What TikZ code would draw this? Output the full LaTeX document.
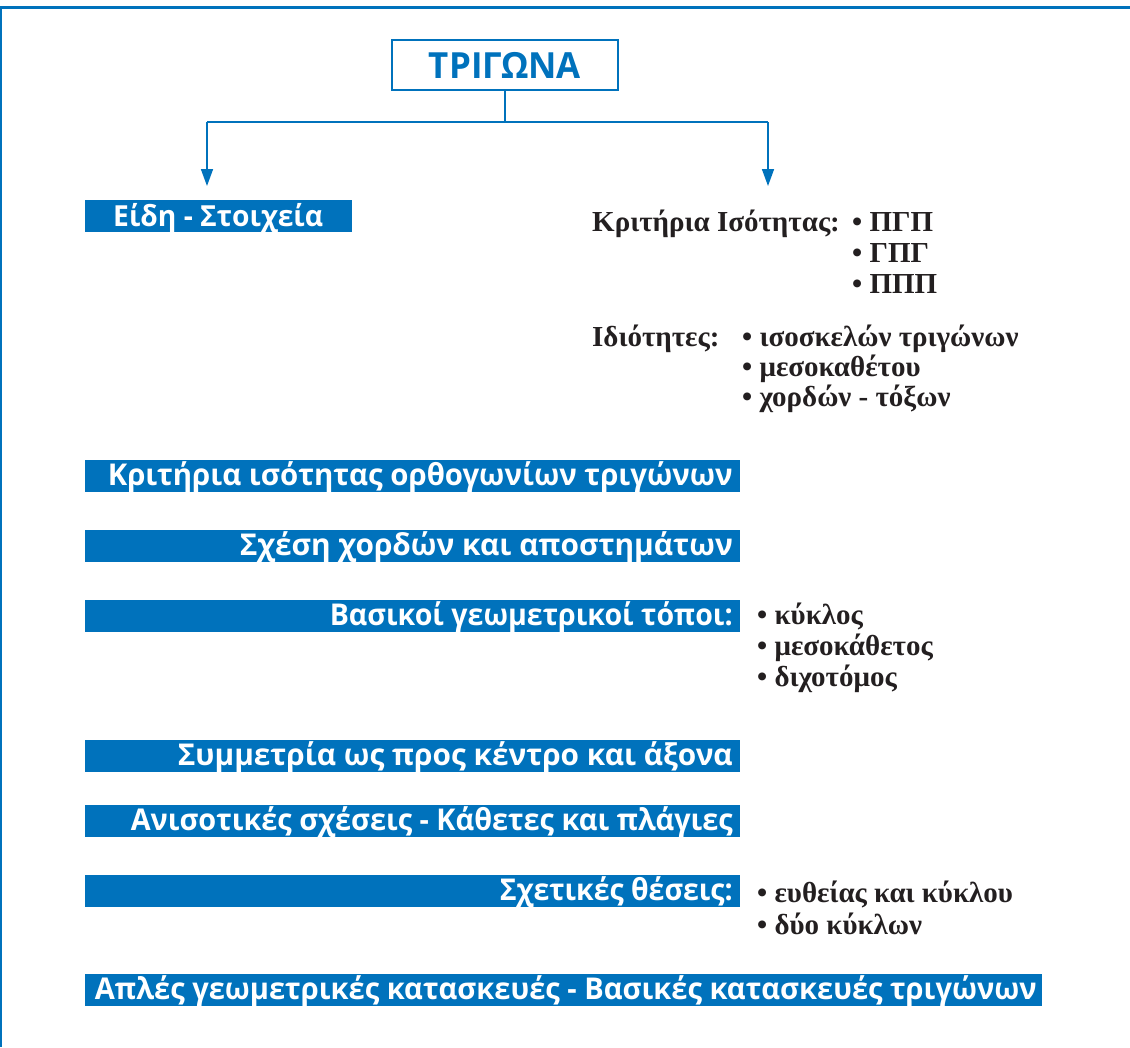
\documentclass[tikz,border=0pt]{standalone}
\usepackage{fontspec}
\usepackage{graphicx}
\usetikzlibrary{arrows.meta}
\newfontfamily\osfont{Open Sans}
\newfontfamily\rsfont{Liberation Serif}
\definecolor{mblue}{RGB}{0,114,188}
\definecolor{ink}{RGB}{35,31,32}
\tikzset{
  conn/.style={draw=mblue, line width=1.6pt},
  arr/.style={conn, -{Triangle[length=17pt,width=12pt]}},
  bluebox/.style={fill=mblue, draw=none, inner sep=0pt, anchor=north west, minimum height=32pt},
  boxtext/.style={inner sep=0pt, anchor=base east, text=white, font=\osfont\bfseries\fontsize{30}{30}\selectfont},
  rtext/.style={inner sep=0pt, anchor=base west, text=ink, font=\rsfont\bfseries\fontsize{29}{29}\selectfont},
}
\newcommand{\hw}[2]{\resizebox{#1pt}{\height}{#2}}
\begin{document}
\begin{tikzpicture}[x=1pt,y=-1pt]
\useasboundingbox (0,0) rectangle (1130,1047);
% frame
\draw[mblue, line width=3pt] (0,7.5) -- (1130,7.5);
\draw[mblue, line width=2pt] (1,7.5) -- (1,1047);
% title
\node[draw=mblue, line width=2pt, minimum width=226pt, minimum height=50pt, inner sep=0pt,
      text=mblue, font=\osfont\bfseries\fontsize{36}{36}\selectfont] (tri) at (505,65) {\hw{152}{ΤΡΙΓΩΝΑ}};
\coordinate (split) at (505,122);
\coordinate (jL) at (207,122);
\coordinate (jR) at (768,122);
\coordinate (aL) at (207,186);
\coordinate (aR) at (768,186);
\draw[conn] (tri.south) -- (split);
\draw[conn] (jL) -- (jR);
\draw[arr] (jL) -- (aL);
\draw[arr] (jR) -- (aR);
% left boxes
\node[bluebox, minimum width=267pt] (b0) at (85,200) {};
\node[boxtext, anchor=base west, font=\osfont\bfseries\fontsize{29}{29}\selectfont] (t0) at (113,226) {\hw{210}{Είδη - Στοιχεία}};
\node[bluebox, minimum width=655pt] (b1) at (85,460) {};
\node[boxtext] (t1) at (733,485) {\hw{625}{Κριτήρια ισότητας ορθογωνίων τριγώνων}};
\node[bluebox, minimum width=655pt] (b2) at (85,530) {};
\node[boxtext] (t2) at (733,555) {\hw{493}{Σχέση χορδών και αποστημάτων}};
\node[bluebox, minimum width=655pt] (b3) at (85,600) {};
\node[boxtext] (t3) at (733,625) {\hw{403}{Βασικοί γεωμετρικοί τόποι:}};
\node[bluebox, minimum width=655pt] (b4) at (85,740) {};
\node[boxtext] (t4) at (733,765) {\hw{555}{Συμμετρία ως προς κέντρο και άξονα}};
\node[bluebox, minimum width=655pt] (b5) at (85,805) {};
\node[boxtext] (t5) at (733,830) {\hw{602}{Ανισοτικές σχέσεις - Κάθετες και πλάγιες}};
\node[bluebox, minimum width=655pt] (b6) at (85,875) {};
\node[boxtext] (t6) at (733,900) {\hw{233}{Σχετικές θέσεις:}};
\node[bluebox, minimum width=957pt] (b7) at (85,974) {};
\node[boxtext] (t7) at (1037,999) {\hw{942}{Απλές γεωμετρικές κατασκευές - Βασικές κατασκευές τριγώνων}};
% right texts
\node[rtext] (k0) at (592,231) {Κριτήρια Ισότητας:};
\node[rtext] (k1) at (852,231) {• ΠΓΠ};
\node[rtext] (k2) at (852,262) {• ΓΠΓ};
\node[rtext] (k3) at (852,293) {• ΠΠΠ};
\node[rtext] (i0) at (592,346) {Ιδιότητες:};
\node[rtext] (i1) at (742,346) {• ισοσκελών τριγώνων};
\node[rtext] (i2) at (742,376) {• μεσοκαθέτου};
\node[rtext] (i3) at (742,406) {• χορδών - τόξων};
\node[rtext] (g1) at (757,624) {• κύκλος};
\node[rtext] (g2) at (757,655) {• μεσοκάθετος};
\node[rtext] (g3) at (757,686) {• διχοτόμος};
\node[rtext] (s1) at (757,902) {• ευθείας και κύκλου};
\node[rtext] (s2) at (757,934) {• δύο κύκλων};
\end{tikzpicture}
\end{document}
